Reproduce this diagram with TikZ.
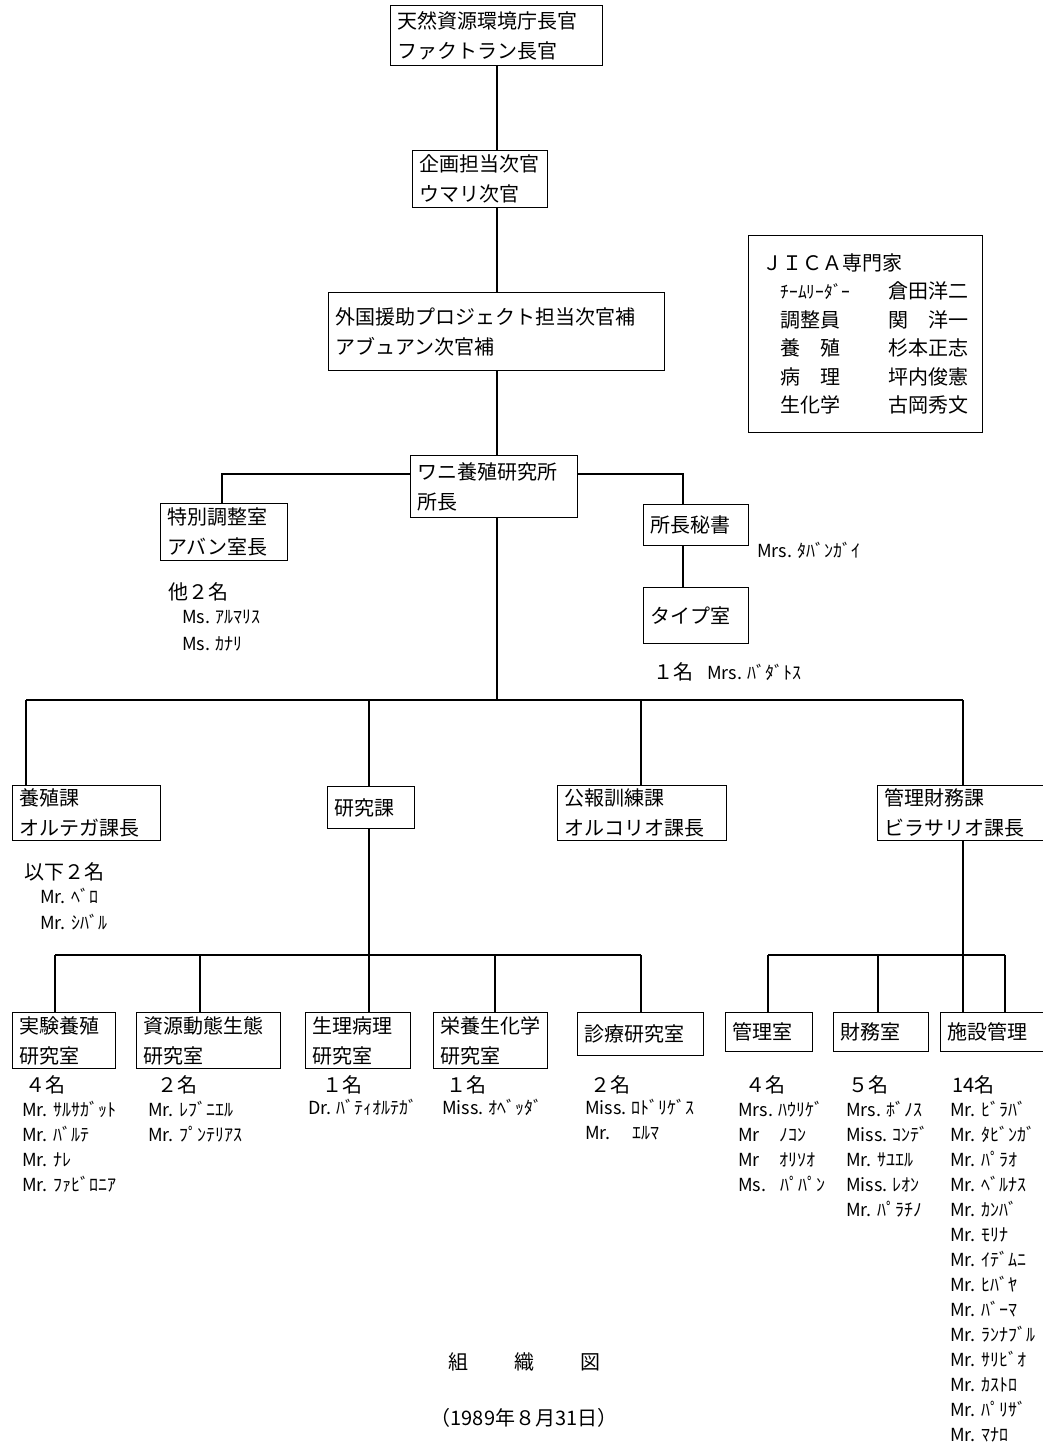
\documentclass[tikz,border=0pt]{standalone}
\usepackage{fontspec}
\setmainfont{Noto Sans CJK JP}
\tikzset{
every node/.style={font=\fontsize{20}{30}\selectfont}, % default size of all writing
box/.style={draw, line width=1pt, anchor=north west, align=left, inner xsep=7pt, inner ysep=3pt}, % a framed post
staff/.style={anchor=north west, align=left, inner sep=0pt, font=\fontsize{18}{#1}\selectfont}, % names under a post
staff/.default=25pt,
count/.style={anchor=west, inner sep=0pt}, % number of staff
link/.style={line width=1.4pt}, % lines between posts
}

\begin{document}
\begin{tikzpicture}[x=1pt, y=-1pt]
        \fill[white] (0,0) rectangle (1043,1447);
        \useasboundingbox (0,0) rectangle (1043,1447);

        % upper posts
        \node[box, text width=198pt, minimum height=60pt] (chokan) at (390,5) {天然資源環境庁長官\\ファクトラン長官};
        \node[box, text width=121pt, minimum height=57pt] (jikan) at (412,150) {企画担当次官\\ウマリ次官};
        \node[box, text width=322pt, minimum height=78pt] (jikanho) at (328,292) {外国援助プロジェクト担当次官補\\アブュアン次官補};
        \node[box, text width=153pt, minimum height=62pt] (wani) at (410,455) {ワニ養殖研究所\\所長};
        \node[box, text width=113pt, minimum height=57pt] (tokubetsu) at (160,503) {特別調整室\\アバン室長};
        \node[box, text width=91pt, minimum height=41pt] (hisho) at (643,504) {所長秘書};
        \node[box, text width=91pt, minimum height=56pt] (type) at (643,587) {タイプ室};

        % experts
        \node[box, text width=206pt, minimum height=197pt, inner xsep=14pt, font=\fontsize{20}{28.5}\selectfont] (jica) at (748,235) {ＪＩＣＡ専門家\\
          \hspace*{18pt}\makebox[108pt][l]{\fontsize{17.5}{20}\selectfont ﾁｰﾑﾘｰﾀﾞｰ}倉田洋二\\
          \hspace*{18pt}\makebox[108pt][l]{調整員}関　洋一\\
          \hspace*{18pt}\makebox[108pt][l]{養　殖}杉本正志\\
          \hspace*{18pt}\makebox[108pt][l]{病　理}坪内俊憲\\
          \hspace*{18pt}\makebox[108pt][l]{生化学}古岡秀文};

        % sections
        \node[box, text width=134pt, minimum height=55pt] (yoshoku) at (12,785) {養殖課\\オルテガ課長};
        \node[box, text width=73pt, minimum height=42pt] (kenkyu) at (327,786) {研究課};
        \node[box, text width=155pt, minimum height=55pt] (koho) at (557,785) {公報訓練課\\オルコリオ課長};
        \node[box, text width=156pt, minimum height=55pt] (kanrizaimu) at (877,785) {管理財務課\\ビラサリオ課長};

        % laboratories and offices
        \node[box, text width=89pt, minimum height=56pt] (jikken) at (12,1012) {実験養殖\\研究室};
        \node[box, text width=130pt, minimum height=56pt] (shigen) at (136,1012) {資源動態生態\\研究室};
        \node[box, text width=91pt, minimum height=56pt] (seiri) at (305,1012) {生理病理\\研究室};
        \node[box, text width=100pt, minimum height=56pt] (eiyo) at (433,1012) {栄養生化学\\研究室};
        \node[box, text width=112pt, minimum height=43pt] (shinryo) at (577,1012) {診療研究室};
        \node[box, text width=73pt, minimum height=39pt] (kanrishitsu) at (725,1012) {管理室};
        \node[box, text width=81pt, minimum height=39pt] (zaimu) at (833,1012) {財務室};
        \node[box, text width=96pt, minimum height=39pt] (shisetsu) at (940,1012) {施設管理};

        % staff
        \node[count] (n-toku) at (168,592) {他２名};
        \node[staff=27pt] (s-toku) at (182,610) {Ms. ｱﾙﾏﾘｽ\\Ms. ｶﾅﾘ};
        \node[staff, anchor=west] (s-hisho) at (757,550) {Mrs. ﾀﾊﾞﾝｶﾞｲ};
        \node[count] (n-type) at (653,672) {１名\hspace{14pt}{\fontsize{18}{20}\selectfont Mrs. ﾊﾞﾀﾞﾄｽ}};
        \node[count] (n-yoshoku) at (24,872) {以下２名};
        \node[staff=26pt] (s-yoshoku) at (40,888) {Mr. ﾍﾞﾛ\\Mr. ｼﾊﾞﾙ};

        \node[count] (n-jikken) at (25,1085) {４名};
        \node[staff] (s-jikken) at (22,1101) {Mr. ｻﾙｻｶﾞｯﾄ\\Mr. ﾊﾞﾙﾃ\\Mr. ﾅﾚ\\Mr. ﾌｧﾋﾞﾛﾆｱ};
        \node[count] (n-shigen) at (157,1085) {２名};
        \node[staff] (s-shigen) at (148,1101) {Mr. ﾚﾌﾞﾆｴﾙ\\Mr. ﾌﾟﾝﾃﾘｱｽ};
        \node[count] (n-seiri) at (322,1085) {１名};
        \node[staff] (s-seiri) at (308,1099) {Dr. ﾊﾞﾃｨｵﾙﾃｶﾞ};
        \node[count] (n-eiyo) at (446,1085) {１名};
        \node[staff] (s-eiyo) at (442,1099) {Miss. ｵﾍﾞｯﾀﾞ};
        \node[count] (n-shinryo) at (590,1085) {２名};
        \node[staff] (s-shinryo) at (585,1099) {Miss. ﾛﾄﾞﾘｹﾞｽ\\Mr.\hspace{22pt}ｴﾙﾏ};
        \node[count] (n-kanri) at (745,1085) {４名};
        \node[staff] (s-kanri) at (738,1101) {Mrs. ﾊｳﾘｹﾞ\\Mr\hspace{20pt}ﾉｺﾝ\\Mr\hspace{20pt}ｵﾘｿｵ\\Ms.\hspace{14pt}ﾊﾟﾊﾟﾝ};
        \node[count] (n-zaimu) at (848,1085) {５名};
        \node[staff] (s-zaimu) at (846,1101) {Mrs. ﾎﾞﾉｽ\\Miss. ｺﾝﾃﾞ\\Mr. ｻﾕｴﾙ\\Miss. ﾚｵﾝ\\Mr. ﾊﾟﾗﾁﾉ};
        \node[count] (n-shisetsu) at (952,1085) {14名};
        \node[staff] (s-shisetsu) at (950,1101) {Mr. ﾋﾞﾗﾊﾞ\\Mr. ﾀﾋﾞﾝｶﾞ\\Mr. ﾊﾟﾗｵ\\Mr. ﾍﾞﾙﾅｽ\\Mr. ｶﾝﾊﾞ\\Mr. ﾓﾘﾅ\\Mr. ｲﾃﾞﾑﾆ\\Mr. ﾋﾊﾞﾔ\\Mr. ﾊﾞｰﾏ\\Mr. ﾗﾝﾅﾌﾞﾙ\\Mr. ｻﾘﾋﾞｵ\\Mr. ｶｽﾄﾛ\\Mr. ﾊﾟﾘｻﾞ\\Mr. ﾏﾅﾛ};

        % caption
        \node (zu) at (524,1362) {組\hspace{46pt}織\hspace{46pt}図};
        \node (hizuke) at (524,1418) {（1989年８月31日）};

        % junction points
        \coordinate (trunk) at (497,0);
        \coordinate (sideL) at (222,474);
        \coordinate (sideR) at (683,474);
        \foreach \n/\x in {yoshoku/26, kenkyu/369, koho/641, kanrizaimu/963}
          \coordinate (\n-top) at (\x,700);
        \foreach \n/\x in {jikken/55, shigen/200, seiri/369, eiyo/495, shinryo/641, kanrishitsu/768, zaimu/878, shisetsu/1005}
          \coordinate (\n-top) at (\x,955);

        \draw[link] (chokan.south -| trunk) edge (jikan.north -| trunk)
        (jikan.south -| trunk) edge (jikanho.north -| trunk)
        (jikanho.south -| trunk) edge (wani.north -| trunk)
        (wani.south -| trunk) edge (trunk |- yoshoku-top)
        (hisho.south -| sideR) edge (type.north -| sideR)
        (kenkyu.south -| seiri-top) edge (seiri-top)
        (kanrizaimu.south -| kanrizaimu-top) edge (kanrizaimu-top |- shisetsu.north);
        \draw[link] (wani.west |- sideL) -- (sideL) -- (sideL |- tokubetsu.north);
        \draw[link] (wani.east |- sideR) -- (sideR) -- (sideR |- hisho.north);
        \draw[link] (yoshoku-top) -- (kanrizaimu-top);
        \draw[link] (jikken-top) -- (shinryo-top);
        \draw[link] (kanrishitsu-top) -- (shisetsu-top);
        \foreach \n in {yoshoku, kenkyu, koho, kanrizaimu, jikken, shigen, seiri, eiyo, shinryo, kanrishitsu, zaimu, shisetsu}
          \draw[link] (\n-top) -- (\n-top |- \n.north);
      \end{tikzpicture}
\end{document}
